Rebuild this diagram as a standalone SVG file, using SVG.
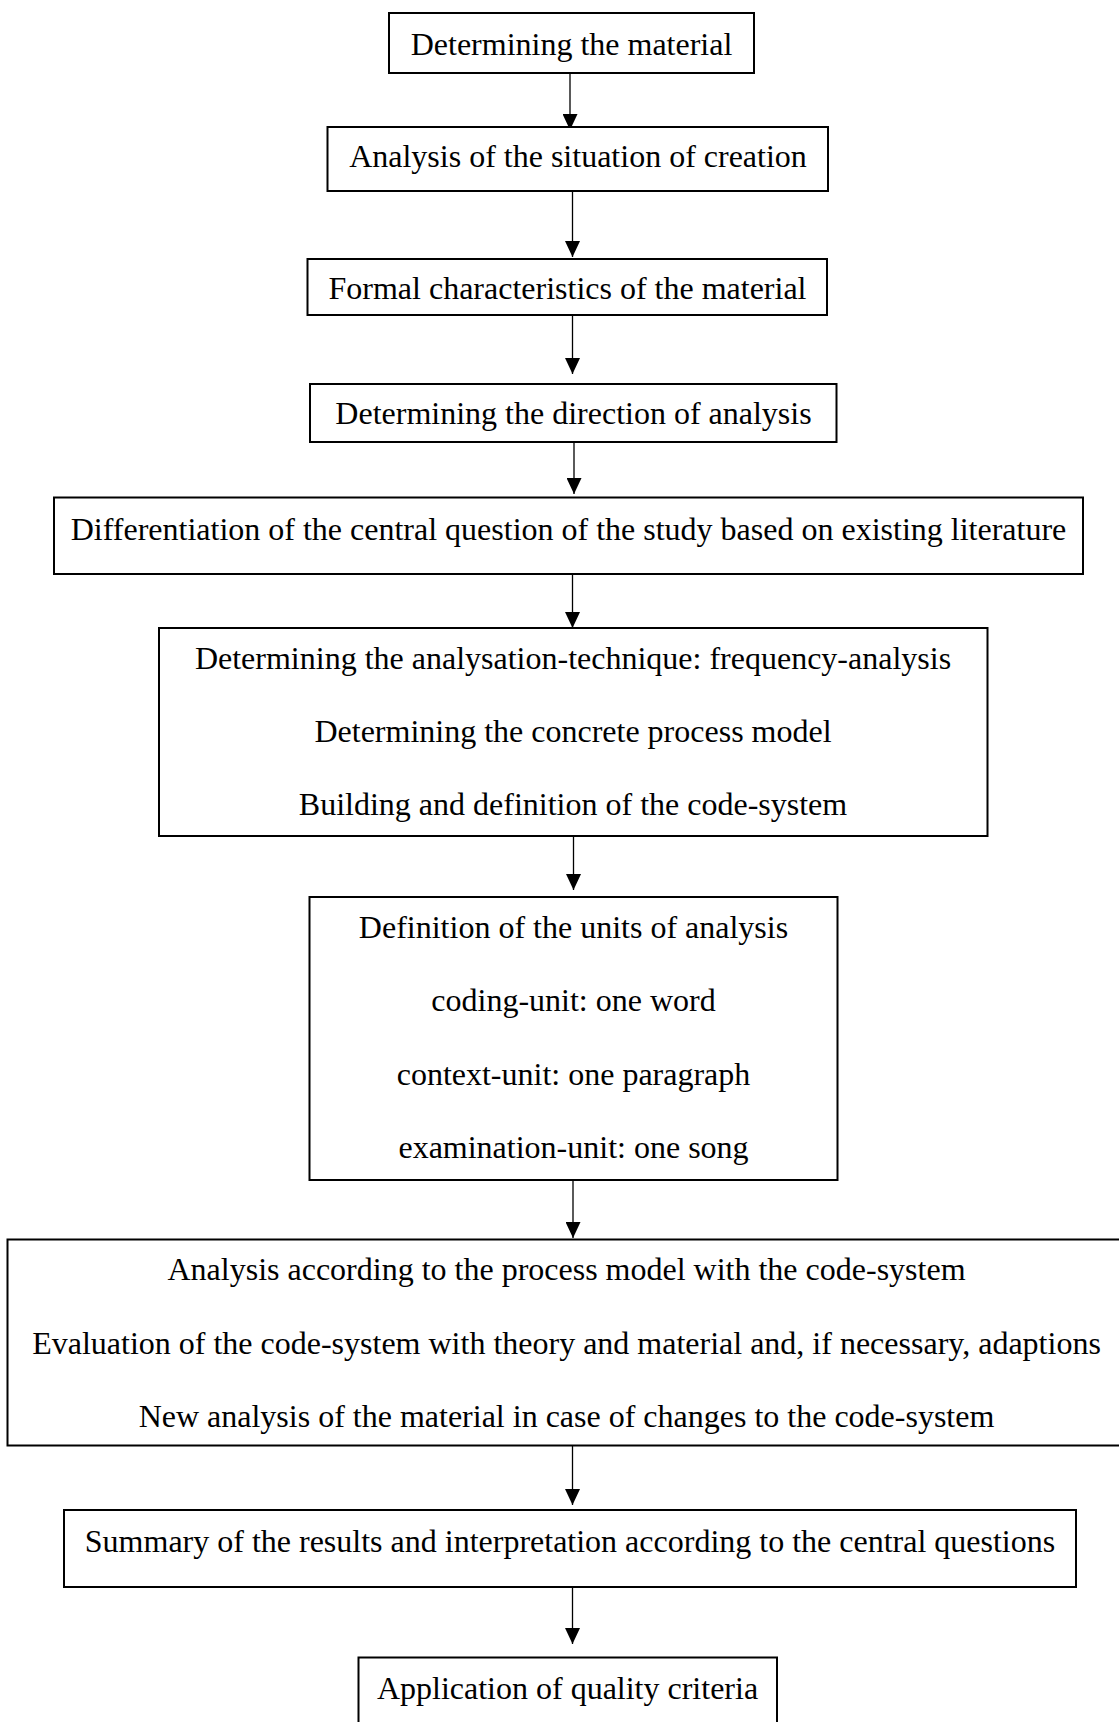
<svg xmlns="http://www.w3.org/2000/svg" width="1119" height="1722" viewBox="0 0 1119 1722">
<style>
.box{fill:#ffffff;stroke:#000000;stroke-width:2}
.t{font-family:"Liberation Serif","Times New Roman",serif;font-size:32px;fill:#000000;text-anchor:middle}
.c{stroke:#000000;stroke-width:1.3;fill:none;marker-end:url(#ah)}
</style>
<defs>
<marker id="ah" viewBox="0 0 16 15" refX="16" refY="7.5" markerWidth="16" markerHeight="15" markerUnits="userSpaceOnUse" orient="auto">
<path d="M0,0 L16,7.5 L0,15 Z" fill="#000000"/>
</marker>
</defs>
<rect width="1119" height="1722" fill="#ffffff"/>
<g id="connectors">
<line class="c" x1="570" y1="73" x2="570" y2="130"/>
<line class="c" x1="572.5" y1="191" x2="572.5" y2="257"/>
<line class="c" x1="572.5" y1="315" x2="572.5" y2="374"/>
<line class="c" x1="574" y1="443" x2="574" y2="494"/>
<line class="c" x1="572.5" y1="574" x2="572.5" y2="628"/>
<line class="c" x1="573.5" y1="836" x2="573.5" y2="890"/>
<line class="c" x1="573" y1="1180" x2="573" y2="1238"/>
<line class="c" x1="572.5" y1="1446" x2="572.5" y2="1505"/>
<line class="c" x1="572.5" y1="1587" x2="572.5" y2="1644"/>
</g>
<g id="n1">
<rect class="box" x="389" y="13" width="365" height="60"/>
<text class="t" x="571.5" y="54.5">Determining the material</text>
</g>
<g id="n2">
<rect class="box" x="327.5" y="127" width="500.5" height="64"/>
<text class="t" x="578" y="166.5">Analysis of the situation of creation</text>
</g>
<g id="n3">
<rect class="box" x="307.5" y="259" width="519.5" height="56"/>
<text class="t" x="567.5" y="298.5">Formal characteristics of the material</text>
</g>
<g id="n4">
<rect class="box" x="310" y="384" width="526.5" height="58"/>
<text class="t" x="573.5" y="423.5">Determining the direction of analysis</text>
</g>
<g id="n5">
<rect class="box" x="54" y="497.5" width="1029" height="76.5"/>
<text class="t" x="568.5" y="540">Differentiation of the central question of the study based on existing literature</text>
</g>
<g id="n6">
<rect class="box" x="159" y="628" width="828.5" height="208"/>
<text class="t" x="573" y="668.5">Determining the analysation-technique: frequency-analysis</text>
<text class="t" x="573" y="742">Determining the concrete process model</text>
<text class="t" x="573" y="815">Building and definition of the code-system</text>
</g>
<g id="n7">
<rect class="box" x="309.5" y="897" width="528" height="283"/>
<text class="t" x="573.5" y="937.5">Definition of the units of analysis</text>
<text class="t" x="573.5" y="1011">coding-unit: one word</text>
<text class="t" x="573.5" y="1085">context-unit: one paragraph</text>
<text class="t" x="573.5" y="1157.5">examination-unit: one song</text>
</g>
<g id="n8">
<rect class="box" x="7.5" y="1239.5" width="1120" height="206"/>
<text class="t" x="566.5" y="1280">Analysis according to the process model with the code-system</text>
<text class="t" x="566.5" y="1354">Evaluation of the code-system with theory and material and, if necessary, adaptions</text>
<text class="t" x="566.5" y="1427">New analysis of the material in case of changes to the code-system</text>
</g>
<g id="n9">
<rect class="box" x="64" y="1510" width="1012" height="77"/>
<text class="t" x="570" y="1552">Summary of the results and interpretation according to the central questions</text>
</g>
<g id="n10">
<rect class="box" x="358.5" y="1657.5" width="418.5" height="80"/>
<text class="t" x="567.5" y="1699">Application of quality criteria</text>
</g>
</svg>
